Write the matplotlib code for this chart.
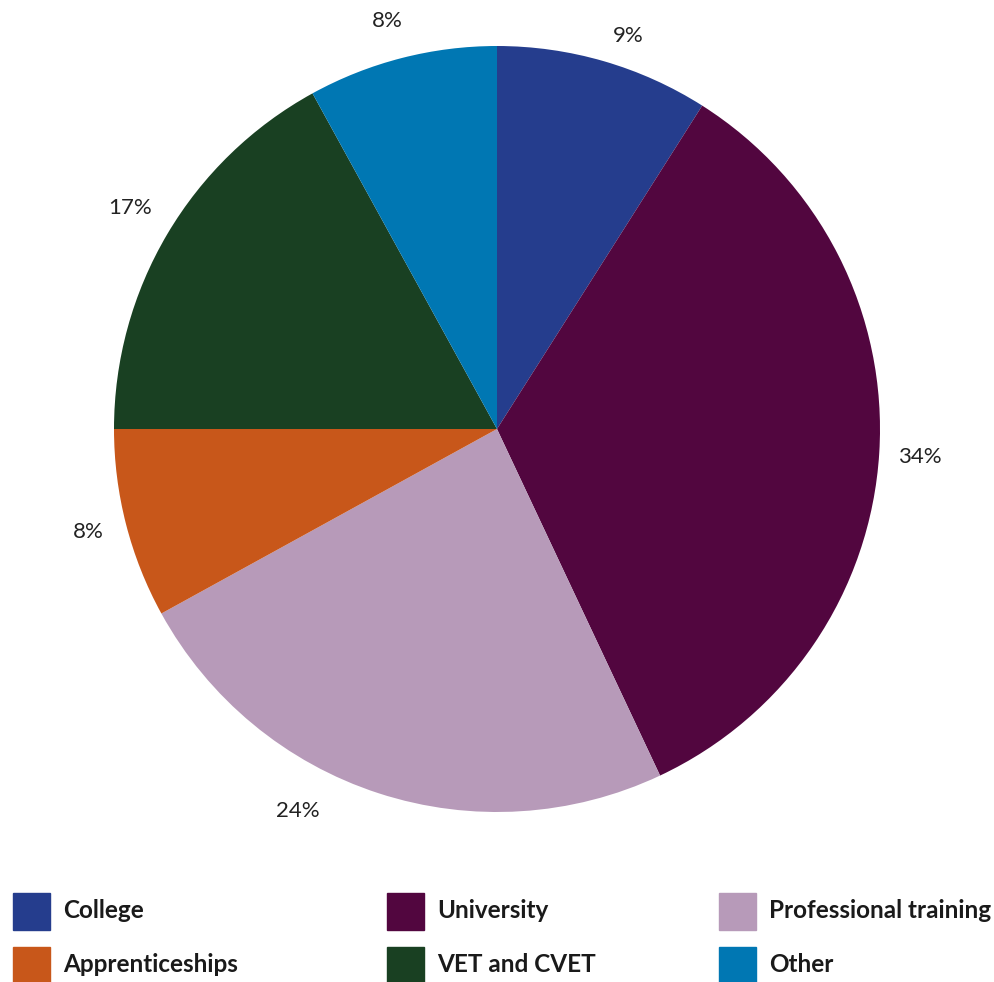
import matplotlib.pyplot as plt
from matplotlib.patches import Rectangle

categories = ['College', 'University', 'Professional training',
              'Apprenticeships', 'VET and CVET', 'Other']
shares = [9, 34, 24, 8, 17, 8]
colors = ['#253D8D', '#52063F', '#B79AB9', '#C8571A', '#194022', '#0077B3']

# where the percentage labels sit, in pie radius units
label_xy = [(0.342, 1.026), (1.104, -0.073), (-0.520, -0.997),
            (-1.068, -0.269), (-0.958, 0.577), (-0.287, 1.065)]

plt.rcParams['font.family'] = ['Lato', 'DejaVu Sans']

W, H = 995, 982
fig = plt.figure(figsize=(W / 100, H / 100), dpi=100)

# pie occupies a square area in pixel terms
ax = fig.add_axes([114 / W, (H - 812) / H, 766 / W, 766 / H])
wedges, texts = ax.pie(shares, colors=colors, startangle=90, counterclock=False,
                       labels=[f'{s}%' for s in shares],
                       textprops={'fontsize': 16, 'color': '#222222'},
                       wedgeprops={'linewidth': 0})
for t, (x, y) in zip(texts, label_xy):
    t.set_position((x, y))
    t.set_ha('center')
    t.set_va('center')
ax.set_xlim(-1, 1)
ax.set_ylim(-1, 1)
ax.set_aspect('equal')

# legend: two rows of three, coloured squares with bold text
col_x = [13, 387, 719]
row_y = [893, 947]
for i, (name, c) in enumerate(zip(categories, colors)):
    r, k = divmod(i, 3)
    x0, y0 = col_x[k], row_y[r]
    fig.patches.append(Rectangle((x0 / W, 1 - (y0 + 37) / H), 37 / W, 37 / H,
                                 transform=fig.transFigure, color=c))
    fig.text((x0 + 50) / W, 1 - (y0 + 18) / H, name, fontsize=17.5,
             fontweight='bold', va='center', ha='left', color='#1a1a1a')

fig.savefig('out.png', dpi=100)
